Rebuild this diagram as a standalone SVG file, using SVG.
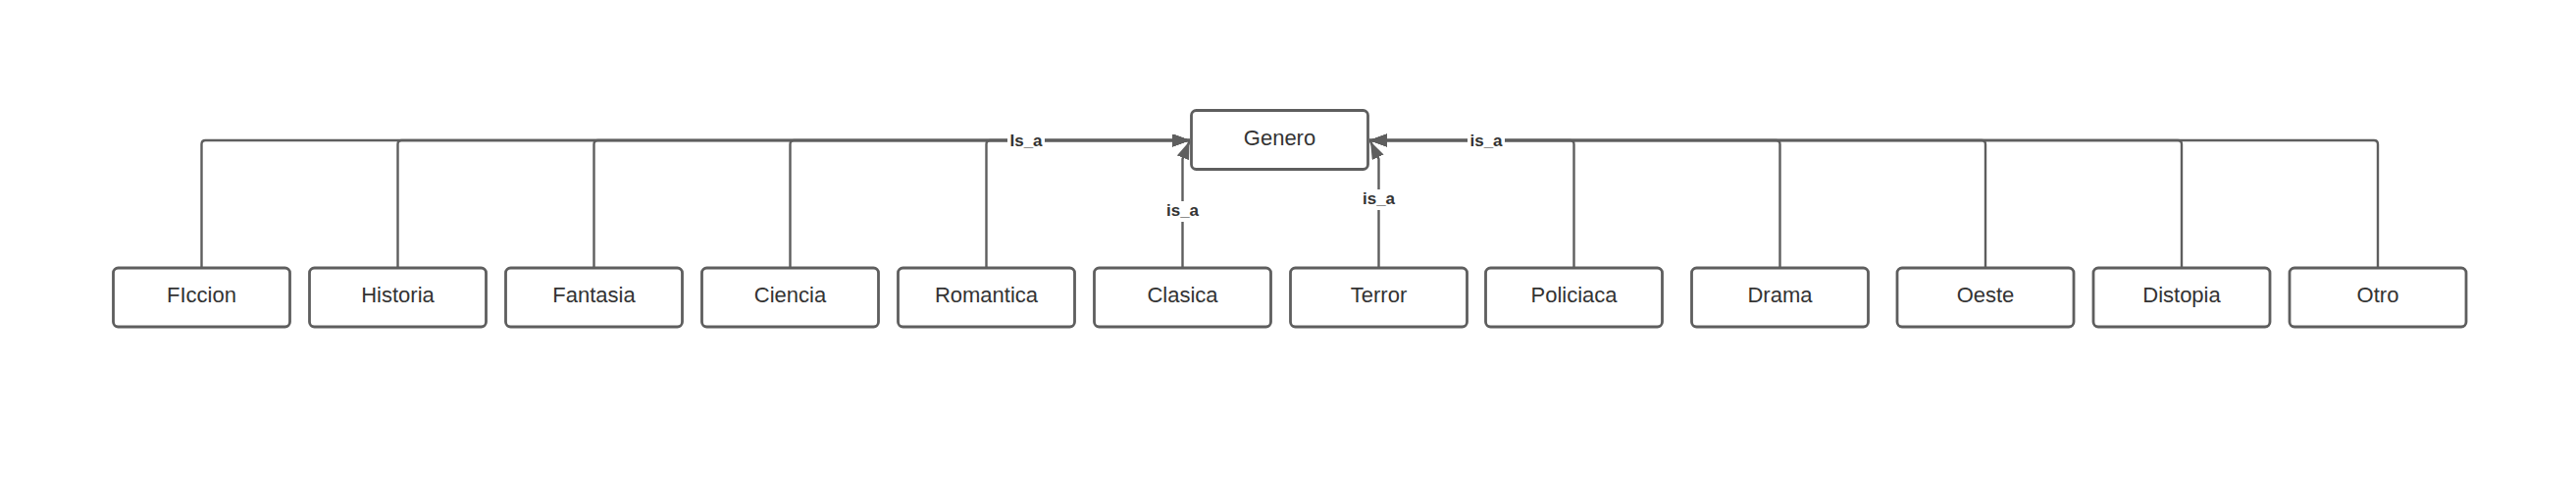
<svg xmlns="http://www.w3.org/2000/svg" width="2626" height="486" viewBox="0 0 2626 486">
<style>
.box{fill:#fff;stroke:#5e5e5e;stroke-width:2.8}
.t{font-family:"Liberation Sans",Arial,sans-serif;font-size:22px;fill:#333;text-anchor:middle}
.c{fill:none;stroke:#5e5e5e;stroke-width:2.4}
.lbg{fill:#fff}
.l{font-family:"Liberation Sans",Arial,sans-serif;font-size:17px;font-weight:bold;fill:#333;text-anchor:middle}
</style>
<defs>
<marker id="ah" markerUnits="userSpaceOnUse" markerWidth="20" markerHeight="14" refX="18" refY="6.5" orient="auto" viewBox="0 0 20 14">
<path d="M0,0 L18,6.5 L0,13 z" fill="#5e5e5e"/>
</marker>
</defs>
<rect width="2626" height="486" fill="#fff"/>
<g id="connectors">
<path class="c" d="M205.5,273 V147 Q205.5,143 209.5,143 H1213" marker-end="url(#ah)"/>
<path class="c" d="M405.5,273 V147 Q405.5,143 409.5,143 H1213" marker-end="url(#ah)"/>
<path class="c" d="M605.5,273 V147 Q605.5,143 609.5,143 H1213" marker-end="url(#ah)"/>
<path class="c" d="M805.5,273 V147 Q805.5,143 809.5,143 H1213" marker-end="url(#ah)"/>
<path class="c" d="M1005.5,273 V147 Q1005.5,143 1009.5,143 H1213" marker-end="url(#ah)"/>
<path class="c" d="M1205.5,273 V162 L1212.5,144" marker-end="url(#ah)"/>
<path class="c" d="M1405.5,273 V162 L1397,144" marker-end="url(#ah)"/>
<path class="c" d="M1604.5,273 V147 Q1604.5,143 1600.5,143 H1396" marker-end="url(#ah)"/>
<path class="c" d="M1814.5,273 V147 Q1814.5,143 1810.5,143 H1396" marker-end="url(#ah)"/>
<path class="c" d="M2024,273 V147 Q2024,143 2020,143 H1396" marker-end="url(#ah)"/>
<path class="c" d="M2224,273 V147 Q2224,143 2220,143 H1396" marker-end="url(#ah)"/>
<path class="c" d="M2424,273 V147 Q2424,143 2420,143 H1396" marker-end="url(#ah)"/>
<rect class="lbg" x="1027" y="134" width="38" height="18"/>
<text class="l" x="1046" y="149">Is_a</text>
<rect class="lbg" x="1496" y="134" width="38" height="18"/>
<text class="l" x="1515" y="149">is_a</text>
<rect class="lbg" x="1190" y="205" width="32" height="21"/>
<text class="l" x="1205.5" y="220">is_a</text>
<rect class="lbg" x="1390" y="193" width="32" height="21"/>
<text class="l" x="1405.5" y="208">is_a</text>
</g>
<g id="genero"><rect class="box" x="1214.5" y="112.5" width="180" height="60" rx="5"/><text class="t" x="1304.5" y="147.5">Genero</text></g>
<g id="ficcion"><rect class="box" x="115.5" y="273" width="180" height="60" rx="5"/><text class="t" x="205.5" y="307.5">FIccion</text></g>
<g id="historia"><rect class="box" x="315.5" y="273" width="180" height="60" rx="5"/><text class="t" x="405.5" y="307.5">Historia</text></g>
<g id="fantasia"><rect class="box" x="515.5" y="273" width="180" height="60" rx="5"/><text class="t" x="605.5" y="307.5">Fantasia</text></g>
<g id="ciencia"><rect class="box" x="715.5" y="273" width="180" height="60" rx="5"/><text class="t" x="805.5" y="307.5">Ciencia</text></g>
<g id="romantica"><rect class="box" x="915.5" y="273" width="180" height="60" rx="5"/><text class="t" x="1005.5" y="307.5">Romantica</text></g>
<g id="clasica"><rect class="box" x="1115.5" y="273" width="180" height="60" rx="5"/><text class="t" x="1205.5" y="307.5">Clasica</text></g>
<g id="terror"><rect class="box" x="1315.5" y="273" width="180" height="60" rx="5"/><text class="t" x="1405.5" y="307.5">Terror</text></g>
<g id="policiaca"><rect class="box" x="1514.5" y="273" width="180" height="60" rx="5"/><text class="t" x="1604.5" y="307.5">Policiaca</text></g>
<g id="drama"><rect class="box" x="1724.5" y="273" width="180" height="60" rx="5"/><text class="t" x="1814.5" y="307.5">Drama</text></g>
<g id="oeste"><rect class="box" x="1934" y="273" width="180" height="60" rx="5"/><text class="t" x="2024" y="307.5">Oeste</text></g>
<g id="distopia"><rect class="box" x="2134" y="273" width="180" height="60" rx="5"/><text class="t" x="2224" y="307.5">Distopia</text></g>
<g id="otro"><rect class="box" x="2334" y="273" width="180" height="60" rx="5"/><text class="t" x="2424" y="307.5">Otro</text></g>
</svg>
